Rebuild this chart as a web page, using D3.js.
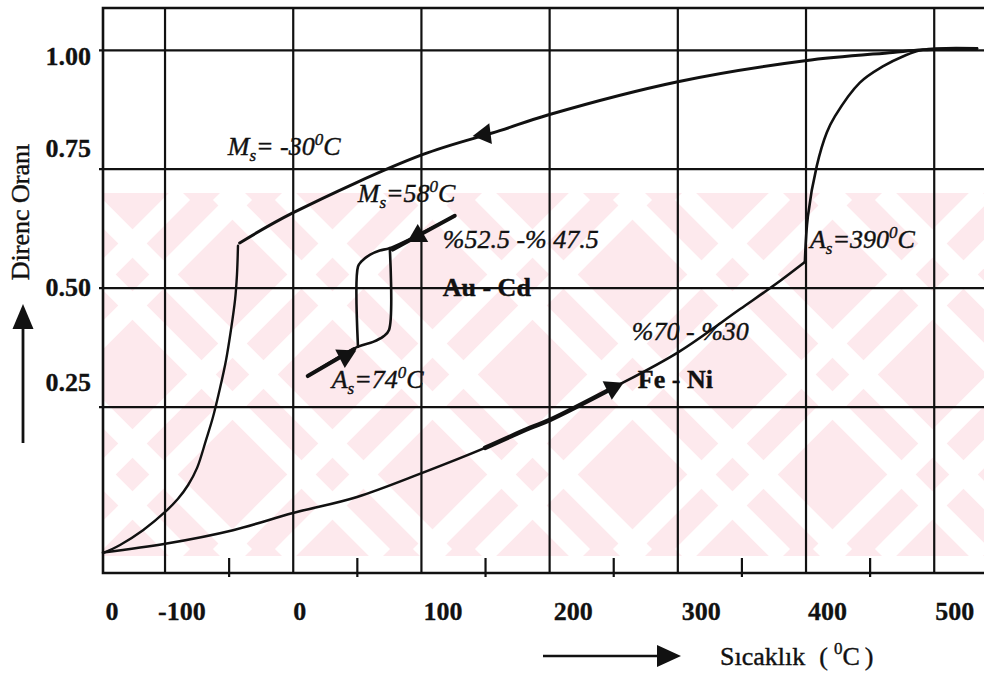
<!DOCTYPE html>
<html><head><meta charset="utf-8">
<script src="https://cdn.jsdelivr.net/npm/d3@7"></script>
<style>
body{margin:0;background:#fff}svg{display:block}
svg text{font-family:"Liberation Serif","Times New Roman",Times,"DejaVu Serif",serif !important;}
</style>
</head><body>
<svg id="c" width="984" height="674"></svg>
<script>
// ---------------- data ----------------
const xGridValues  = [-100, 0, 100, 200, 300, 400, 500];
const xMinorTicks  = [-50, 50, 150, 250, 350, 450];
const xTickValues  = [-148, -100, 0, 100, 200, 300, 400, 500];
const xTickLabels  = ["0", "-100", "0", "100", "200", "300", "400", "500"];
const yTickValues  = [1.00, 0.75, 0.50, 0.25];
const yTickLabels  = ["1.00", "0.75", "0.50", "0.25"];

// Fe-Ni (%70 - %30): heating branch
const feNiHeating = [[-148,-0.057],[-98.3,-0.038],[-46.6,-0.010],[0.2,0.026],[50.2,0.060],[100.6,0.110],
  [150,0.163],[185.1,0.205],[200.7,0.222],[249.7,0.289],[301.2,0.365],[349,0.455],[376,0.506],[399.5,0.554]];
// Fe-Ni reverse transformation rise (As = 390 C)
const feNiRise = [[399.5,0.554],[401.8,0.649],[408.8,0.756],[416.6,0.826],[422.9,0.860],[442.4,0.931],
  [460.3,0.965],[475.9,0.986],[491.5,1.0],[533.7,1.003]];
// Fe-Ni cooling branch
const feNiCooling = [[533.7,1.003],[491.5,1.0],[468,0.9945],[399.5,0.977],[300.4,0.933],[199,0.863],
  [161.5,0.830],[100.6,0.779],[0,0.657],[-41.4,0.594]];
// Fe-Ni martensite drop (Ms = -30 C)
const feNiDrop = [[-42.7,0.588],[-43.5,0.527],[-45.0,0.474],[-48.2,0.411],[-52.0,0.348],[-56.7,0.289],
  [-62.2,0.228],[-67.6,0.180],[-74.6,0.121],[-81.6,0.085],[-89.5,0.056],[-98.9,0.030],
  [-116.8,-0.010],[-134.7,-0.041],[-148,-0.058]];
// Fe-Ni heating arrow shaft
const feNiShaft = [[150,0.163],[185.1,0.205],[200.7,0.222],[249.7,0.289]];

// Au-Cd (%52.5 - %47.5)
const auCdCooling = [[126.4,0.651],[75.7,0.583],[67.9,0.578],[60.1,0.569],[53.6,0.555],[50.9,0.544],[50.9,0.376]];
const auCdHeating = [[11.7,0.314],[50.9,0.376],[62.7,0.386],[70.5,0.397],[75.1,0.411],[75.7,0.583]];
const auCdCoolShaft = [[126.4,0.651],[78,0.580]];
const auCdHeatShaft = [[11.7,0.314],[48,0.371]];

// arrow heads: [T, R, direction(deg)]
const arrowHeads = [[140.4,0.819,173],[97.5,0.634,-90],[40.6,0.331,93],[248.9,0.264,94]];

// annotations: [T, R, parts, style]
const annotations = [
  [-50.7, 0.779, [["M"],["s","sub"],["= -30"],["0","sup"],["C"]], "it"],
  [50.7, 0.680, [["M"],["s","sub"],["=58"],["0","sup"],["C"]], "it"],
  [117.0, 0.583, [["%52.5 -% 47.5"]], "it"],
  [117.0, 0.482, [["Au - Cd"]], "bd"],
  [403.4, 0.583, [["A"],["s","sub"],["=390"],["0","sup"],["C"]], "it"],
  [264.5, 0.390, [["%70 - %30"]], "it"],
  [269.2, 0.289, [["Fe - Ni"]], "bd"],
  [30.4, 0.289, [["A"],["s","sub"],["=74"],["0","sup"],["C"]], "it"]
];
const yTitle = "Direnc Oranı";
const xTitle = "Sıcaklık";

// ---------------- layout ----------------
const svg = d3.select("#c");
const x = d3.scaleLinear().domain([-148, 540]).range([103, 985]);
const y = d3.scaleLinear().domain([-0.1, 1.09]).range([573, 7]);
const ink = "#111";
const xLabelNudge = [2, -7, 0, 2, 4, 4, 2, 1];
const yLabelNudge = [15, -12, 8, -16];

svg.append("rect").attr("width", 984).attr("height", 674).attr("fill", "#fff");

// ---- watermark (faint pink diagonal pattern) ----
const wm = svg.append("g");
wm.append("clipPath").attr("id", "wmc").append("rect")
  .attr("x", 103).attr("y", 193).attr("width", 881).attr("height", 363);
const wmg = wm.append("g").attr("clip-path", "url(#wmc)");
wmg.append("rect").attr("x", 103).attr("y", 193).attr("width", 881).attr("height", 363).attr("fill", "#fde9ed");
const H = 363;
for (let k = -4; k < 8; k++) {
  const x0 = 20 + k * 200;
  [0, 62].forEach(off => {
    wmg.append("line").attr("x1", x0 + off).attr("y1", 193).attr("x2", x0 + off + H).attr("y2", 556)
      .attr("stroke", "#fff").attr("stroke-width", 20);
    wmg.append("line").attr("x1", x0 + off + H).attr("y1", 193).attr("x2", x0 + off).attr("y2", 556)
      .attr("stroke", "#fff").attr("stroke-width", 20);
  });
}

// ---- grid ----
const gx = svg.append("g").attr("transform", "translate(0,7)")
  .call(d3.axisBottom(x).tickValues(xGridValues).tickSize(566).tickFormat(""));
gx.select(".domain").remove();
gx.selectAll("line").attr("stroke", ink).attr("stroke-width", 2.2);

const gy = svg.append("g").attr("transform", "translate(99,0)")
  .call(d3.axisLeft(y).tickValues(yTickValues).tickSize(-(985 - 99)).tickFormat(""));
gy.select(".domain").remove();
gy.selectAll("line").attr("stroke", ink).attr("stroke-width", 2.2);

// minor ticks
const gm = svg.append("g").attr("transform", "translate(0,577)")
  .call(d3.axisTop(x).tickValues(xMinorTicks).tickSize(19).tickFormat(""));
gm.select(".domain").remove();
gm.selectAll("line").attr("stroke", ink).attr("stroke-width", 2.2);

// frame
svg.append("path")
  .attr("d", `M${x.range()[1]},${y(1.088)} H${x(-148)} V${y(-0.1)} H${x.range()[1]}`)
  .attr("fill", "none").attr("stroke", ink).attr("stroke-width", 2.6);

// ---- tick labels ----
const xl = svg.append("g").attr("transform", "translate(0,620)")
  .call(d3.axisBottom(x).tickValues(xTickValues).tickSize(0).tickPadding(0)
    .tickFormat((d, i) => xTickLabels[i]));
xl.select(".domain").remove();
xl.selectAll("text").attr("y", 0).attr("dy", 0).attr("text-anchor", "start")
  .attr("dx", (d, i) => xLabelNudge[i])
  .attr("font-weight", "bold").attr("font-size", 26).attr("fill", ink)
  .attr("stroke", ink).attr("stroke-width", 0.3);

const yl = svg.append("g").attr("transform", "translate(91,0)")
  .call(d3.axisLeft(y).tickValues(yTickValues).tickSize(0).tickPadding(0)
    .tickFormat((d, i) => yTickLabels[i]));
yl.select(".domain").remove();
yl.selectAll("text").attr("x", 0).attr("dy", (d, i) => yLabelNudge[i]).attr("text-anchor", "end")
  .attr("font-weight", "bold").attr("font-size", 26).attr("fill", ink)
  .attr("stroke", ink).attr("stroke-width", 0.3);

// ---- curves ----
const line = d3.line().x(d => x(d[0])).y(d => y(d[1])).curve(d3.curveCatmullRom.alpha(0.5));
const lin = d3.line().x(d => x(d[0])).y(d => y(d[1]));
const curves = svg.append("g").attr("fill", "none").attr("stroke", ink)
  .attr("stroke-linecap", "round").attr("stroke-linejoin", "round");
curves.append("path").attr("d", line(feNiHeating)).attr("stroke-width", 2.6);
curves.append("path").attr("d", line(feNiRise)).attr("stroke-width", 2.6);
curves.append("path").attr("d", line(feNiCooling)).attr("stroke-width", 3);
curves.append("path").attr("d", line(feNiDrop)).attr("stroke-width", 2.4);
curves.append("path").attr("d", line(feNiShaft)).attr("stroke-width", 4.5);
curves.append("path").attr("d", line(auCdCooling)).attr("stroke-width", 2.6);
curves.append("path").attr("d", line(auCdHeating)).attr("stroke-width", 2.6);
curves.append("path").attr("d", lin(auCdCoolShaft)).attr("stroke-width", 4);
curves.append("path").attr("d", lin(auCdHeatShaft)).attr("stroke-width", 4);

// arrow heads
svg.append("g").selectAll("path").data(arrowHeads).join("path")
  .attr("d", "M0,0 L-18,-10.5 L-18,10.5 Z")
  .attr("transform", d => `translate(${x(d[0])},${y(d[1])}) rotate(${d[2]})`)
  .attr("fill", ink);

// ---- annotations ----
const ann = svg.append("g").attr("fill", ink).attr("stroke", ink).attr("stroke-width", 0.4);
annotations.forEach(a => {
  const t = ann.append("text").attr("x", x(a[0])).attr("y", y(a[1]))
    .attr("font-size", 26)
    .attr("font-style", a[3] === "it" ? "italic" : "normal")
    .attr("font-weight", a[3] === "bd" ? "bold" : "normal");
  let shift = 0;
  a[2].forEach(p => {
    const target = p[1] === "sub" ? 6 : p[1] === "sup" ? -10 : 0;
    const ts = t.append("tspan").text(p[0]).attr("dy", target - shift);
    if (p[1]) ts.attr("font-size", 17);
    shift = target;
  });
});

// ---- axis titles ----
svg.append("text").attr("transform", "translate(29,212) rotate(-90)")
  .attr("text-anchor", "middle").attr("font-size", 26)
  .attr("fill", ink).attr("stroke", ink).attr("stroke-width", 0.4).text(yTitle);

const xt = svg.append("text").attr("x", 720).attr("y", 665)
  .attr("font-size", 26).attr("fill", ink).attr("stroke", ink).attr("stroke-width", 0.4);
xt.append("tspan").text(xTitle);
xt.append("tspan").attr("dx", 14).text("(");
xt.append("tspan").attr("dx", 6).attr("dy", -11).attr("font-size", 17).text("0");
xt.append("tspan").attr("dy", 11).text("C");
xt.append("tspan").attr("dx", 5).text(")");

// axis direction arrows
const arr = svg.append("g").attr("fill", ink).attr("stroke", ink);
arr.append("line").attr("x1", 543).attr("y1", 656).attr("x2", 662).attr("y2", 656).attr("stroke-width", 2.6);
arr.append("path").attr("d", "M681,656 L657,645 L657,667 Z").attr("stroke", "none");
arr.append("line").attr("x1", 23).attr("y1", 443).attr("x2", 23).attr("y2", 324).attr("stroke-width", 2.8);
arr.append("path").attr("d", "M23,304 L12.5,329 L33.5,329 Z").attr("stroke", "none");
</script>
</body></html>
